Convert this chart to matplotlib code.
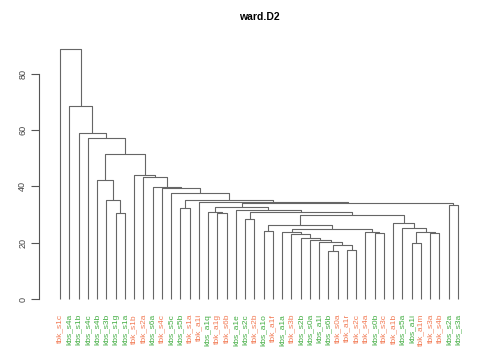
import matplotlib
matplotlib.use("Agg")
import matplotlib.pyplot as plt

plt.rcParams['font.family'] = ['Liberation Sans', 'DejaVu Sans']

# etiquetas das folhas, na ordem em que aparecem
rotulos = ["tbk_s1c", "kbs_s4a", "kbs_s1b", "kbs_s4c", "kbs_s4b", "kbs_s3b", "kbs_s1g", "kbs_s1a",
           "tbk_s1b", "tbk_s2a", "kbs_s6a", "tbk_s4c", "kbs_s5c", "kbs_s5b", "tbk_s1a", "tbk_a1i",
           "kbs_a1q", "tbk_a1g", "tbk_s6b", "kbs_a1e", "kbs_s2c", "tbk_s2b", "kbs_a1o", "tbk_a1f",
           "kbs_a1a", "tbk_s3b", "kbs_s2b", "kbs_s0a", "kbs_a1l", "kbs_s6b", "tbk_s0a", "tbk_a1r",
           "tbk_s2c", "tbk_s4a", "kbs_s0b", "tbk_s3c", "tbk_a1b", "kbs_s5a", "kbs_a1i", "tbk_a1m",
           "tbk_s3a", "tbk_s4b", "kbs_s2a", "kbs_s3a"]

# matriz de fusoes no estilo do R: negativo = folha, positivo = grupo anterior
fusoes = [(-30, -31), (-32, -33), (1, 2), (-39, -40), (-29, 3), (-28, 5), (-27, 6), (-26, 7),
          (-41, -42), (-35, -36), (-25, 8), (4, 9), (-34, 10), (-23, -24), (11, 13), (-38, 12),
          (14, 15), (-37, 16), (-21, -22), (17, 18), (-18, -19), (-7, -8), (19, 20), (-17, 21),
          (-20, 23), (-14, -15), (24, 25), (-43, -44), (27, 28), (-16, 29), (-6, 22), (26, 30),
          (-13, 32), (-12, 33), (-11, 34), (-5, 31), (-10, 35), (-9, 37), (36, 38), (-4, 39),
          (-3, 40), (-2, 41), (-1, 42)]
alturas = [17.0, 17.3, 19.2, 19.8, 20.1, 21.0, 21.5, 23.1,
           23.3, 23.6, 23.7, 23.8, 23.9, 24.3, 24.7, 25.1,
           26.3, 27.1, 28.3, 29.8, 30.4, 30.6, 30.8, 31.0,
           31.6, 32.4, 32.6, 33.4, 34.1, 34.3, 35.0, 35.2,
           37.6, 39.3, 39.8, 42.1, 43.3, 43.9, 51.4, 57.3,
           59.1, 68.6, 88.8]

laranja = '#F27B55'
verde = '#42AD42'
corLinha = '#666666'

fig = plt.figure(figsize=(5, 3.6), dpi=100)
ax = fig.add_axes([39 / 500, 1 - 309 / 360, 440 / 500, 270 / 360])

# posicao x e altura de cada grupo
posX = {}
posY = {}

def coord(i):
    if i < 0:
        return float(-i), 0.0
    return posX[i], posY[i]

for k, (a, b) in enumerate(fusoes, start=1):
    xa, ya = coord(a)
    xb, yb = coord(b)
    h = alturas[k - 1]
    ax.plot([xa, xa, xb, xb], [ya, h, h, yb], color=corLinha, lw=0.8, solid_capstyle='butt')
    posX[k] = (xa + xb) / 2
    posY[k] = h

for i, r in enumerate(rotulos, start=1):
    cor = laranja if r.startswith('tbk') else verde
    ax.text(i, -5.3, r, rotation=90, ha='center', va='top', fontsize=6.0, color=cor, clip_on=False)

ax.set_xlim(1 - 21 / 9.256, 1 + 419 / 9.256)
ax.set_ylim(-3.55, 92.35)
for s in ['top', 'right', 'bottom']:
    ax.spines[s].set_visible(False)
ax.spines['left'].set_bounds(0, 80)
ax.spines['left'].set_color('#555555')
ax.spines['left'].set_linewidth(0.8)
ax.set_xticks([])
ax.set_yticks([0, 20, 40, 60, 80])
ax.tick_params(axis='y', length=5.5, width=0.8, color='#555555', labelsize=6.5, labelcolor='#444444', pad=3)
for t in ax.get_yticklabels():
    t.set_rotation(90)
    t.set_va('center')

fig.text(259 / 500, 1 - 17 / 360, 'ward.D2', ha='center', va='center', fontsize=7.5, fontweight='bold')

fig.savefig('out.png', dpi=100)
